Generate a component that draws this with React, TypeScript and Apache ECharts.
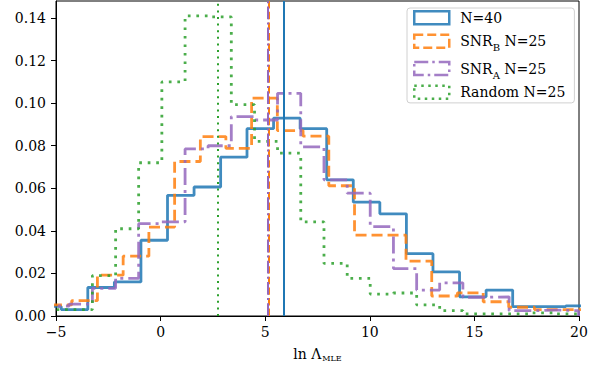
import React, { useEffect, useRef } from "react";
import * as echarts from "echarts";

// Bin edges and densities (per histogram)
const blueEdges = [-6.02, -4.75, -3.48, -2.21, -0.94, 0.33, 1.6, 2.87, 4.13, 5.4, 6.67, 7.94, 9.21, 10.48, 11.75, 13.02, 14.29, 15.56, 16.83, 18.1, 19.37, 20.64];
const blueValues = [0.0045, 0.003, 0.0134, 0.016, 0.0356, 0.0567, 0.0606, 0.0746, 0.088, 0.093, 0.088, 0.064, 0.0535, 0.048, 0.0293, 0.0207, 0.009, 0.0122, 0.0044, 0.0044, 0.0048];

const orangeEdges = [-5.48, -4.25, -3.02, -1.79, -0.56, 0.67, 1.9, 3.12, 4.35, 5.58, 6.81, 8.04, 9.27, 10.5, 11.73, 12.96, 14.19, 15.42, 16.64, 17.87, 19.1, 20.33];
const orangeValues = [0.0052, 0.0072, 0.0192, 0.0281, 0.0418, 0.0726, 0.0843, 0.0788, 0.1024, 0.0871, 0.0845, 0.0612, 0.038, 0.038, 0.0258, 0.0094, 0.0109, 0.0067, 0.0041, 0.003, 0.003];

const purpleEdges = [-5.48, -4.37, -3.26, -2.15, -1.05, 0.06, 1.17, 2.27, 3.38, 4.49, 5.59, 6.7, 7.81, 8.92, 10.02, 11.13, 12.24, 13.34, 14.45, 15.56, 16.66, 17.77, 18.88, 19.98];
const purpleValues = [0.0047, 0.0056, 0.013, 0.0177, 0.0434, 0.0442, 0.0785, 0.08, 0.0937, 0.0921, 0.1046, 0.0795, 0.064, 0.0577, 0.042, 0.0223, 0.0122, 0.0156, 0.0088, 0.009, 0.0025, 0.0028, 0.0025];

const greenEdges = [-5.48, -4.37, -3.26, -2.15, -1.05, 0.06, 1.17, 2.27, 3.38, 4.49, 5.59, 6.7, 7.81, 8.92, 10.02, 11.13, 12.24, 13.34, 14.45, 15.56, 16.66, 17.77, 18.88, 19.98];
const greenValues = [0.003, 0.003, 0.019, 0.041, 0.072, 0.11, 0.141, 0.1405, 0.0993, 0.082, 0.0765, 0.0442, 0.0247, 0.0177, 0.0103, 0.0108, 0.0052, 0.0025, 0.001, 0.001, 0.001, 0.0015, 0.001];

// Vertical reference lines (medians)
const blueMedian = 5.9;
const orangeMedian = 5.15;
const purpleMedian = 5.14;
const greenMedian = 2.74;

const seriesNames = ["N=40", "SNR_B N=25", "SNR_A N=25", "Random N=25"];
const yTicks = [0, 0.02, 0.04, 0.06, 0.08, 0.1, 0.12, 0.14];
const xTicks = [-5, 0, 5, 10, 15, 20];

const FONT = "DejaVu Serif";

function stepData(edges: number[], values: number[]) {
  const pts: number[][] = [[edges[0], 0]];
  for (let i = 0; i < values.length; i++) pts.push([edges[i], values[i]]);
  pts.push([edges[edges.length - 1], values[values.length - 1]]);
  pts.push([edges[edges.length - 1], 0]);
  return pts;
}

export default function App() {
  const ref = useRef<HTMLDivElement>(null);
  useEffect(() => {
    if (!ref.current) return;
    const chart = echarts.init(ref.current, null, { renderer: "svg" });
    const mk = (
      name: string,
      edges: number[],
      values: number[],
      color: string,
      type: any,
      median: number,
      vType: any,
      width: number
    ) => ({
      name,
      type: "line",
      step: "end",
      data: stepData(edges, values),
      showSymbol: false,
      symbol: "none",
      clip: true,
      color,
      lineStyle: { color, width, type, opacity: 0.85, cap: "butt" },
      markLine: {
        silent: true,
        symbol: ["none", "none"],
        label: { show: false },
        lineStyle: { color, width: 2, type: vType, opacity: 1 },
        data: [{ xAxis: median }],
      },
    });
    const legendLabels: Record<string, string> = {
      "N=40": "{n|N=40}",
      "SNR_B N=25": "{n|SNR}{s|B}{n| N=25}",
      "SNR_A N=25": "{n|SNR}{s|A}{n| N=25}",
      "Random N=25": "{n|Random N=25}",
    };
    const legendItem = (name: string, color: string, bt: any) => ({
      name,
      icon: "rect",
      itemStyle: { color: "rgba(255,255,255,0)", borderColor: color, borderWidth: 2.5, borderType: bt, opacity: 0.85 },
    });
    chart.setOption({
      animation: false,
      backgroundColor: "#ffffff",
      grid: { left: 56, right: 27, top: 1, bottom: 52, show: true, borderColor: "#000", borderWidth: 1, backgroundColor: "transparent" },
      xAxis: {
        type: "value",
        min: -5,
        max: 20,
        interval: 5,
        axisLine: { show: true, onZero: false, lineStyle: { color: "#000", width: 1 } },
        axisTick: { show: true, inside: false, length: 5, lineStyle: { color: "#000" }, customValues: xTicks },
        axisLabel: {
          color: "#000",
          fontFamily: FONT,
          fontSize: 14,
          margin: 9,
          customValues: xTicks,
          formatter: (v: number) => (v < 0 ? "\u2212" + Math.abs(v) : String(v)),
        },
        splitLine: { show: false },
        name: "{a|ln \u039B}{b|MLE}",
        nameLocation: "middle",
        nameGap: 29,
        nameTextStyle: {
          color: "#000",
          fontFamily: FONT,
          rich: {
            a: { fontFamily: FONT, fontSize: 14, lineHeight: 18, color: "#000" },
            b: { fontFamily: FONT, fontSize: 8, lineHeight: 8, padding: [8, 0, 0, 1], color: "#000" },
          },
        },
      },
      yAxis: {
        type: "value",
        min: 0,
        max: 0.148,
        interval: 0.02,
        axisLine: { show: true, onZero: false, lineStyle: { color: "#000", width: 1 } },
        axisTick: { show: true, inside: false, length: 5, lineStyle: { color: "#000" }, customValues: yTicks },
        axisLabel: {
          color: "#000",
          fontFamily: FONT,
          fontSize: 14,
          margin: 10,
          customValues: yTicks,
          formatter: (v: number) => v.toFixed(2),
        },
        splitLine: { show: false },
      },
      legend: {
        orient: "vertical",
        left: 407,
        top: 8,
        padding: [2, 9, 3, 6],
        itemWidth: 35,
        itemHeight: 13,
        itemGap: 4.3,
        backgroundColor: "#ffffff",
        borderColor: "#d0d0d0",
        borderWidth: 1,
        borderRadius: 3,
        data: [
          legendItem(seriesNames[0], "#1f77b4", "solid"),
          legendItem(seriesNames[1], "#ff7f0e", [9, 4]),
          legendItem(seriesNames[2], "#9467bd", [14, 4, 2.5, 4]),
          legendItem(seriesNames[3], "#2ca02c", [2.5, 4.5]),
        ],
        formatter: (name: string) => legendLabels[name] || name,
        textStyle: {
          color: "#000",
          fontFamily: FONT,
          fontSize: 14,
          padding: [0, 0, 0, 6],
          rich: {
            n: { fontFamily: FONT, fontSize: 14, lineHeight: 20, color: "#000" },
            s: { fontFamily: FONT, fontSize: 10, lineHeight: 8, padding: [13, 0, 0, 0], color: "#000" },
          },
        },
      },
      series: [
        mk(seriesNames[0], blueEdges, blueValues, "#1f77b4", "solid", blueMedian, "solid", 2.8),
        mk(seriesNames[1], orangeEdges, orangeValues, "#ff7f0e", [11, 5], orangeMedian, [7.4, 3.2], 2.8),
        mk(seriesNames[2], purpleEdges, purpleValues, "#9467bd", [17, 5, 3, 5], purpleMedian, [12.8, 3.2, 2, 3.2], 2.8),
        mk(seriesNames[3], greenEdges, greenValues, "#2ca02c", [2.7, 5.8], greenMedian, [2, 4.6], 2.8),
      ],
    });
    return () => chart.dispose();
  }, []);
  return (
    <div
      ref={ref}
      style={{ position: "fixed", left: 0, top: 0, width: 606, height: 368, background: "#fff" }}
    />
  );
}
